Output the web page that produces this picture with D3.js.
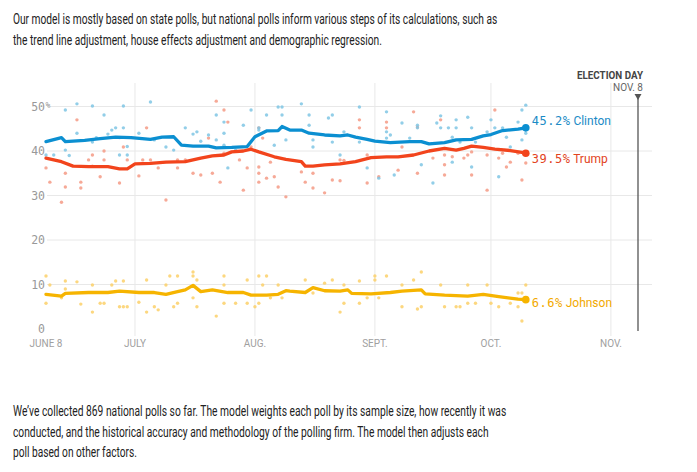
<!DOCTYPE html>
<html>
<head>
<meta charset="utf-8">
<script src="https://cdnjs.cloudflare.com/ajax/libs/d3/7.8.5/d3.min.js"></script>
<style>
  body { margin: 0; background: #fff; }
  svg { display: block; }
</style>
</head>
<body>
<div id="chart"></div>
<script>
// intro / outro copy
var introLines = [
  "Our model is mostly based on state polls, but national polls inform various steps of its calculations, such as",
  "the trend line adjustment, house effects adjustment and demographic regression."
];
var outroLines = [
  "We\u2019ve collected 869 national polls so far. The model weights each poll by its sample size, how recently it was",
  "conducted, and the historical accuracy and methodology of the polling firm. The model then adjusts each",
  "poll based on other factors."
];

// axis ticks
var yTicks = [0, 10, 20, 30, 40, 50];
var xTicks = ["06/08", "07/01", "08/01", "09/01", "10/01", "11/01"];
var xTickLabels = ["JUNE 8", "JULY", "AUG.", "SEPT.", "OCT.", "NOV."];
var electionDay = "11/08";

// trend lines (date, percent)
var clintonTrend = [
  ["06/08",42.1],["06/12",43.0],["06/13",42.1],["06/18",42.4],["06/22",42.8],["06/26",43.1],
  ["06/30",43.0],["07/05",42.6],["07/08",43.1],["07/11",43.2],["07/13",41.3],["07/16",41.1],
  ["07/20",41.1],["07/22",40.7],["07/26",40.8],["07/30",41.0],["08/01",43.2],["08/04",44.5],
  ["08/07",44.6],["08/08",45.5],["08/10",44.7],["08/13",44.7],["08/15",44.0],["08/19",43.6],
  ["08/23",43.4],["08/25",43.6],["08/27",43.1],["08/30",42.6],["09/01",42.2],["09/05",41.9],
  ["09/10",42.1],["09/13",42.1],["09/15",41.6],["09/19",41.9],["09/22",42.5],["09/26",42.6],
  ["09/29",43.4],["10/01",43.7],["10/04",44.6],["10/08",44.9],["10/10",45.2]
];
var trumpTrend = [
  ["06/08",38.4],["06/12",37.6],["06/15",36.6],["06/19",36.5],["06/24",36.5],["06/27",36.0],
  ["06/29",36.0],["07/01",37.1],["07/05",37.2],["07/09",37.5],["07/14",37.6],["07/18",38.4],
  ["07/21",38.9],["07/24",39.1],["07/26",39.8],["07/29",40.0],["07/31",40.4],["08/02",39.8],
  ["08/06",38.7],["08/09",38.1],["08/13",37.6],["08/14",36.6],["08/16",36.6],["08/19",36.9],
  ["08/23",37.1],["08/27",37.6],["08/31",38.5],["09/04",38.7],["09/07",38.7],["09/11",39.1],
  ["09/15",40.0],["09/19",40.6],["09/22",40.2],["09/24",40.6],["09/26",41.1],["09/29",40.8],
  ["10/02",40.4],["10/06",40.1],["10/09",39.7],["10/10",39.5]
];
var johnsonTrend = [
  ["06/08",7.8],["06/12",7.4],["06/13",8.0],["06/19",8.2],["06/24",8.2],["06/27",8.5],
  ["07/02",8.2],["07/06",8.2],["07/09",7.8],["07/12",8.4],["07/14",8.8],["07/16",9.8],
  ["07/18",8.4],["07/21",8.8],["07/25",8.2],["07/29",8.2],["07/31",7.6],["08/04",7.6],
  ["08/07",7.8],["08/09",8.6],["08/10",8.5],["08/14",8.2],["08/16",9.3],["08/19",8.6],
  ["08/23",8.5],["08/25",8.8],["08/26",8.0],["08/31",7.9],["09/05",8.2],["09/08",8.5],
  ["09/13",8.8],["09/14",7.9],["09/19",7.6],["09/25",7.4],["09/29",7.8],["10/03",7.3],
  ["10/08",6.7],["10/10",6.6]
];

// individual polls (date, percent)
var clintonPolls = [
  ["06/08",39.1],["06/10",39.1],["06/13",49.2],["06/13",40.2],["06/14",39.0],["06/16",44.0],
  ["06/16",50.6],["06/20",42.0],["06/20",50.1],["06/21",43.0],["06/23",48.1],["06/24",43.8],
  ["06/25",44.7],["06/26",45.2],["06/27",43.0],["06/27",39.1],["06/28",45.2],["06/28",50.1],
  ["06/29",39.1],["06/29",41.0],["07/02",44.0],["07/05",51.0],["07/06",42.5],["07/09",40.9],
  ["07/11",40.2],["07/14",45.2],["07/16",43.8],["07/17",44.3],["07/18",42.2],["07/20",43.6],
  ["07/22",48.1],["07/22",42.5],["07/24",46.5],["07/24",44.0],["07/24",41.3],["07/25",36.2],
  ["07/27",40.2],["07/29",45.8],["07/31",49.2],["08/02",44.7],["08/02",45.2],["08/04",48.1],
  ["08/06",41.3],["08/07",49.9],["08/08",49.9],["08/08",48.1],["08/09",42.5],["08/13",50.6],
  ["08/15",48.1],["08/15",45.8],["08/16",42.5],["08/16",40.9],["08/20",47.4],["08/21",48.1],
  ["08/21",42.0],["08/24",44.3],["08/23",39.1],["08/28",49.9],["08/28",42.0],["08/30",36.2],
  ["09/02",33.9],["09/04",48.8],["09/04",44.3],["09/04",42.9],["09/05",43.6],["09/06",34.6],
  ["09/08",46.3],["09/10",42.9],["09/12",45.2],["09/12",45.8],["09/13",36.9],["09/16",32.8],
  ["09/17",46.3],["09/18",47.9],["09/18",45.2],["09/20",45.2],["09/21",43.1],["09/21",37.5],
  ["09/22",47.0],["09/22",45.2],["09/23",42.0],["09/25",47.6],["09/26",45.2],["09/26",36.4],
  ["09/27",42.0],["09/30",44.3],["10/01",47.0],["10/02",45.2],["10/03",34.2],["10/04",45.2],
  ["10/05",43.1],["10/06",40.9],["10/08",46.5],["10/09",42.5],["10/09",49.2],["10/10",50.3],
  ["10/10",44.0]
];
var trumpPolls = [
  ["06/08",36.2],["06/09",33.0],["06/13",35.0],["06/13",31.9],["06/12",28.5],["06/16",47.0],
  ["06/17",33.0],["06/17",31.7],["06/19",38.0],["06/20",39.1],["06/20",36.6],["06/22",34.2],
  ["06/23",40.0],["06/23",38.0],["06/27",32.8],["06/28",40.9],["06/29",38.0],["07/02",34.4],
  ["07/03",38.0],["07/04",45.2],["07/05",38.0],["07/07",36.2],["07/09",29.0],["07/12",38.0],
  ["07/12",36.2],["07/14",38.0],["07/16",35.0],["07/18",34.6],["07/20",42.9],["07/21",35.0],
  ["07/22",51.2],["07/23",33.0],["07/24",49.2],["07/25",46.5],["07/24",39.5],["07/28",38.0],
  ["07/29",31.2],["07/31",40.9],["07/30",36.2],["08/02",45.2],["08/02",36.4],["08/02",35.0],
  ["08/03",42.9],["08/02",33.0],["08/04",33.9],["08/05",37.5],["08/06",34.2],["08/07",31.9],
  ["08/09",29.7],["08/13",35.3],["08/14",33.0],["08/16",35.0],["08/16",31.7],["08/19",30.6],
  ["08/21",33.5],["08/23",33.3],["08/23",38.0],["08/24",37.9],["08/28",47.0],["08/28",45.2],
  ["08/30",32.8],["08/30",39.1],["09/02",34.2],["09/04",46.5],["09/04",45.2],["09/07",35.7],
  ["09/08",40.9],["09/11",48.8],["09/12",45.4],["09/12",35.0],["09/16",38.4],["09/18",47.0],
  ["09/19",39.1],["09/19",36.9],["09/19",34.6],["09/21",38.7],["09/24",38.4],["09/25",39.1],
  ["09/26",34.6],["09/26",39.8],["09/30",39.1],["09/30",31.2],["10/02",49.2],["10/03",38.4],
  ["10/04",39.5],["10/05",36.4],["10/06",37.5],["10/08",39.5],["10/09",33.5],["10/10",37.3]
];
var johnsonPolls = [
  ["06/08",11.9],["06/08",5.8],["06/09",9.9],["06/12",7.0],["06/13",9.0],["06/13",10.8],
  ["06/16",10.6],["06/17",5.6],["06/20",9.9],["06/20",3.8],["06/22",5.8],["06/23",5.8],
  ["06/25",9.9],["06/26",10.8],["06/27",5.0],["06/28",10.8],["06/28",5.0],["06/29",5.0],
  ["07/02",6.0],["07/04",11.0],["07/04",3.8],["07/06",5.0],["07/07",4.3],["07/09",9.9],
  ["07/10",11.9],["07/11",5.0],["07/12",5.8],["07/12",11.9],["07/16",11.9],["07/16",12.8],
  ["07/16",7.0],["07/17",5.0],["07/17",11.0],["07/24",11.9],["07/24",5.8],["07/22",2.9],
  ["07/24",9.9],["07/27",5.8],["07/30",11.0],["07/30",5.8],["08/01",5.0],["08/02",11.9],
  ["08/02",5.8],["08/04",11.9],["08/03",9.9],["08/05",7.0],["08/07",9.9],["08/08",7.0],
  ["08/14",11.0],["08/16",8.1],["08/19",10.3],["08/21",11.0],["08/23",3.8],["08/24",9.9],
  ["08/24",5.8],["08/28",10.8],["08/28",5.8],["08/30",7.0],["09/01",11.9],["09/01",11.0],
  ["09/04",11.9],["09/02",7.0],["09/08",9.9],["09/08",5.0],["09/11",11.0],["09/12",4.5],
  ["09/13",12.8],["09/13",5.0],["09/18",9.9],["09/19",5.0],["09/22",5.0],["09/23",5.0],
  ["09/25",9.9],["09/25",5.8],["09/27",5.8],["09/30",9.9],["10/01",5.8],["10/03",5.0],
  ["10/06",5.8],["10/08",5.0],["10/08",8.1],["10/09",8.1],["10/09",1.8],["10/10",9.9]
];

var candidates = [
  {name:"Clinton", trend:clintonTrend, polls:clintonPolls, line:"#0b8fd1", dot:"#7fc6e4", label:"#1b8bc6", labelY:121},
  {name:"Trump",   trend:trumpTrend,   polls:trumpPolls,   line:"#f2441c", dot:"#f49a85", label:"#e2431d", labelY:159},
  {name:"Johnson", trend:johnsonTrend, polls:johnsonPolls, line:"#f6b400", dot:"#fbd068", label:"#f2a900", labelY:303}
];

var W = 697, H = 472;
var parse = d3.timeParse("%m/%d/%Y");
function dt(s){ return parse(s + "/2016"); }

var svg = d3.select("#chart").append("svg").attr("width", W).attr("height", H);

// copy text, squeezed horizontally to the condensed width of the original
var textFont = "Roboto, 'Noto Sans', sans-serif";
function copyBlock(lines, widths, y0, step){
  lines.forEach(function(s, i){
    var gg = svg.append("g");
    var t = gg.append("text").attr("x",0).attr("y",0)
      .style("font-family",textFont).style("font-size","14.5px").style("fill","#222")
      .text(s);
    var sx = widths[i] / t.node().getComputedTextLength();
    gg.attr("transform","translate(13," + (y0 + i*step) + ") scale(" + sx + ",1)");
  });
}
copyBlock(introLines, [485, 369], 24, 21);
copyBlock(outroLines, [494, 476, 124], 416, 20.5);

var x = d3.scaleTime().domain([dt("06/08"), dt(electionDay)]).range([46, 638]);
var y = d3.scaleLinear().domain([0, 50]).range([329, 106.5]);

var g = svg.append("g");

// horizontal grid
g.selectAll("line.hgrid").data(yTicks.filter(function(d){ return d > 0; })).enter().append("line")
  .attr("x1",47).attr("x2",652)
  .attr("y1",function(d){ return y(d); }).attr("y2",function(d){ return y(d); })
  .style("stroke","#e8e8e8").style("stroke-width",1);

// vertical grid
g.selectAll("line.vgrid").data(xTicks.slice(1)).enter().append("line")
  .attr("x1",function(d){ return x(dt(d)); }).attr("x2",function(d){ return x(dt(d)); })
  .attr("y1",83).attr("y2",336)
  .style("stroke","#e8e8e8").style("stroke-width",1);

// y labels
var monoFont = "'DejaVu Sans Mono', 'Liberation Mono', monospace";
g.selectAll("text.ylab").data(yTicks).enter().append("text")
  .attr("x",45).attr("y",function(d){ return y(d) + 4; })
  .attr("text-anchor","end")
  .style("font-family",monoFont).style("font-size","11.5px").style("fill","#999")
  .text(function(d){ return d; });
g.append("text").attr("x",45.5).attr("y",y(50)+1)
  .style("font-family",monoFont).style("font-size","8px").style("fill","#999").text("%");

// x labels
g.selectAll("text.xlab").data(xTicks).enter().append("text")
  .attr("x",function(d){ return x(dt(d)); }).attr("y",347)
  .attr("text-anchor","middle")
  .style("font-family",textFont).style("font-size","10px").style("fill","#a0a0a0")
  .text(function(d,i){ return xTickLabels[i]; });

// election day marker
var ex = x(dt(electionDay));
g.append("line").attr("x1",ex).attr("x2",ex).attr("y1",97).attr("y2",331)
  .style("stroke","#555").style("stroke-width",1.3);
g.append("path").attr("d","M"+(ex-3.5)+",94L"+(ex+3.5)+",94L"+ex+",100Z").style("fill","#555");
g.append("text").attr("x",643).attr("y",79).attr("text-anchor","end")
  .attr("textLength",66).attr("lengthAdjust","spacingAndGlyphs")
  .style("font-family",textFont).style("font-size","10px").style("font-weight","bold").style("fill","#444")
  .text("ELECTION DAY");
g.append("text").attr("x",643).attr("y",91).attr("text-anchor","end")
  .style("font-family",textFont).style("font-size","10px").style("fill","#666")
  .text("NOV. 8");

// poll dots
candidates.slice().reverse().forEach(function(c){
  g.append("g").selectAll("circle").data(c.polls).enter().append("circle")
    .attr("cx",function(d){ return x(dt(d[0])); })
    .attr("cy",function(d){ return y(d[1]); })
    .attr("r",1.7)
    .style("fill",c.dot).style("opacity",0.85);
});

// trend lines
var line = d3.line().x(function(d){ return x(dt(d[0])); }).y(function(d){ return y(d[1]); });
candidates.forEach(function(c){
  g.append("path").datum(c.trend).attr("d",line)
    .style("fill","none").style("stroke",c.line).style("stroke-width",3.3)
    .style("stroke-linejoin","round").style("stroke-linecap","round");
  var last = c.trend[c.trend.length-1];
  g.append("circle").attr("cx",x(dt(last[0]))).attr("cy",y(last[1])).attr("r",3.8).style("fill",c.line);
  var t = g.append("text").attr("x",x(dt(last[0])) + 6).attr("y",c.labelY + 4)
    .style("fill",c.label).style("font-size","12px");
  t.append("tspan").style("font-family",monoFont).style("letter-spacing","0.5px").text(last[1].toFixed(1) + "%");
  t.append("tspan").style("font-family",textFont).text(" " + c.name);
});
</script>
</body>
</html>
